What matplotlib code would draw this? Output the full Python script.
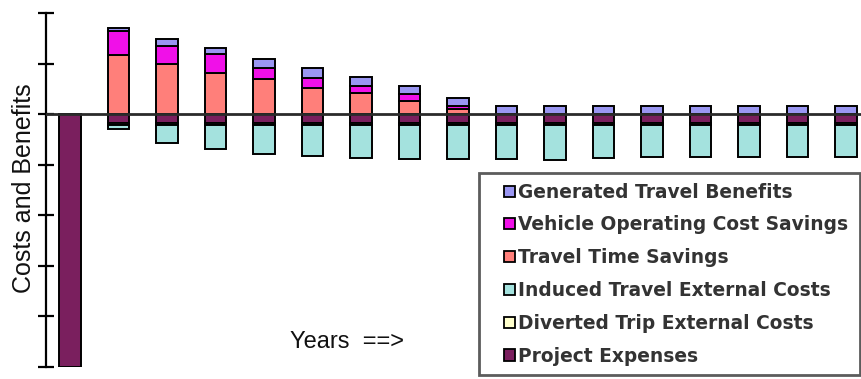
import numpy as np
import matplotlib
matplotlib.use("Agg")
import matplotlib.pyplot as plt
from matplotlib.patches import Patch, Rectangle
from matplotlib.legend_handler import HandlerPatch

plt.rcParams["font.family"] = ["Liberation Sans", "DejaVu Sans"]

years = list(range(17))

# benefits (stacked upward from zero)
travel_time_savings = [0.00, 1.17, 0.99, 0.81, 0.70, 0.52, 0.41, 0.26, 0.10,
                       0.00, 0.00, 0.00, 0.00, 0.00, 0.00, 0.00, 0.00]
vehicle_operating_savings = [0.00, 0.48, 0.36, 0.37, 0.22, 0.20, 0.14, 0.13, 0.06,
                             0.00, 0.00, 0.00, 0.00, 0.00, 0.00, 0.00, 0.00]
generated_travel_benefits = [0.00, 0.06, 0.14, 0.12, 0.17, 0.19, 0.18, 0.16, 0.16,
                             0.16, 0.16, 0.16, 0.16, 0.16, 0.16, 0.16, 0.16]

# costs (stacked downward from zero)
project_expenses = [-5.00, -0.18, -0.18, -0.18, -0.18, -0.18, -0.18, -0.18, -0.18,
                    -0.18, -0.18, -0.18, -0.18, -0.18, -0.18, -0.18, -0.18]
diverted_trip_costs = [0.00, -0.04, -0.04, -0.04, -0.04, -0.04, -0.04, -0.04, -0.04,
                       -0.04, -0.04, -0.04, -0.04, -0.04, -0.04, -0.04, -0.04]
induced_travel_costs = [0.00, -0.08, -0.35, -0.47, -0.57, -0.61, -0.65, -0.67, -0.67,
                        -0.67, -0.69, -0.65, -0.63, -0.63, -0.63, -0.63, -0.63]

labels = ["Generated Travel Benefits", "Vehicle Operating Cost Savings",
          "Travel Time Savings", "Induced Travel External Costs",
          "Diverted Trip External Costs", "Project Expenses"]
colors = {
    "Generated Travel Benefits": "#9A96F2",
    "Vehicle Operating Cost Savings": "#F010E8",
    "Travel Time Savings": "#FF7F7A",
    "Induced Travel External Costs": "#A4E2DE",
    "Diverted Trip External Costs": "#FFFFCC",
    "Project Expenses": "#7A1F5E",
}

W, H = 861, 379
fig = plt.figure(figsize=(W / 100, H / 100), dpi=100)
ax = fig.add_axes([46 / W, 1 - 367 / H, (W - 46) / W, (367 - 13) / H])

x = np.array(years)
bw = 0.45
edge = dict(edgecolor="black", linewidth=1.4, zorder=2)

# positive stack
pos_series = [("Travel Time Savings", travel_time_savings),
              ("Vehicle Operating Cost Savings", vehicle_operating_savings),
              ("Generated Travel Benefits", generated_travel_benefits)]
bottom = np.zeros(len(x))
for name, vals in pos_series:
    v = np.array(vals)
    mask = v > 0
    ax.bar(x[mask], v[mask], bw, bottom=bottom[mask], color=colors[name], **edge)
    bottom += v

# negative stack
neg_series = [("Project Expenses", project_expenses),
              ("Diverted Trip External Costs", diverted_trip_costs),
              ("Induced Travel External Costs", induced_travel_costs)]
bottom = np.zeros(len(x))
for name, vals in neg_series:
    v = np.array(vals)
    mask = v < 0
    ax.bar(x[mask], v[mask], bw, bottom=bottom[mask], color=colors[name], **edge)
    bottom += v

ax.axhline(0, color="#2a2a2a", linewidth=2, zorder=3)

ax.set_xlim(-0.495, 16.31)
ax.set_ylim(-5, 2)
for s in ("top", "right", "bottom"):
    ax.spines[s].set_visible(False)
ax.spines["left"].set_linewidth(1.6)
ax.spines["left"].set_color("black")
ax.set_yticks(np.arange(-5, 3, 1))
ax.set_yticklabels([])
ax.set_xticks([])
ax.tick_params(axis="y", direction="inout", length=11, width=1.6, color="black")
ax.patch.set_alpha(0)

fig.text(24 / W, 1 - 188 / H, "Costs and Benefits", rotation=90,
         ha="center", va="center", fontsize=18, color="#111111")
fig.text(290 / W, 1 - 342 / H, "Years  ==>", ha="left", va="center",
         fontsize=17, color="#111111")


def small_square(legend, orig_handle, xdescent, ydescent, width, height, fontsize):
    s = 8.0
    return Rectangle((width - s - xdescent, -ydescent + (height - s) / 2), s, s)


handles = [Patch(facecolor=colors[l], edgecolor="black", linewidth=1.3, label=l)
           for l in labels]
leg = fig.legend(handles=handles, loc="upper left",
                 bbox_to_anchor=(479 / W, 2 / H, 381 / W, (379 - 173 - 2) / H),
                 mode="expand", borderaxespad=0,
                 prop={"family": "DejaVu Sans", "weight": "bold", "size": 13.4},
                 frameon=True, fancybox=False,
                 handler_map={Patch: HandlerPatch(patch_func=small_square)},
                 handlelength=1.4, handleheight=0.7, handletextpad=0.15,
                 labelspacing=0.74, borderpad=0.52)
leg.get_frame().set_edgecolor("#333333")
leg.get_frame().set_linewidth(2)
for t in leg.get_texts():
    t.set_color("#333333")

fig.savefig("out.png", dpi=100)
